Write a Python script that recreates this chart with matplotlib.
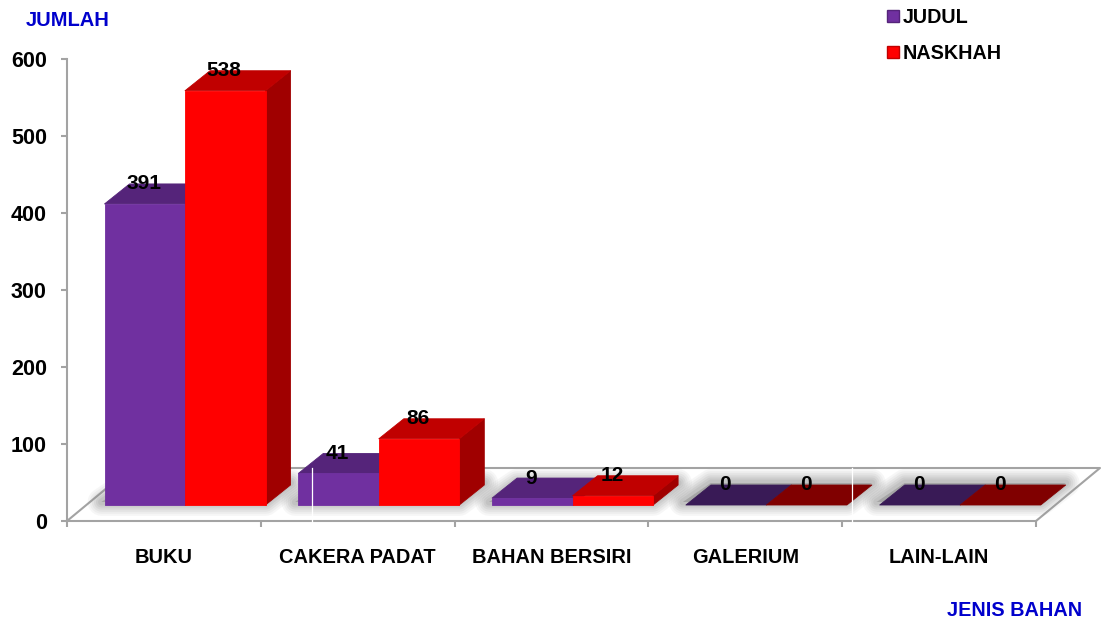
import numpy as np
from matplotlib import pyplot as plt
from matplotlib.lines import Line2D
from matplotlib.patches import Polygon

# Data
kategori = ['BUKU', 'CAKERA PADAT', 'BAHAN BERSIRI', 'GALERIUM', 'LAIN-LAIN']
judul = [391, 41, 9, 0, 0]
naskhah = [538, 86, 12, 0, 0]
y_ticks = [0, 100, 200, 300, 400, 500, 600]

plt.rcParams['font.family'] = ['Liberation Sans', 'DejaVu Sans']
plt.rcParams['font.weight'] = 'bold'

W, H = 1101, 621
fig = plt.figure(figsize=(W / 100, H / 100), dpi=100)
ax = fig.add_axes([67 / W, (H - 521) / H, (1036 - 67) / W, (521 - 59) / H])
ax.set_xlim(0, 5)
ax.set_ylim(0, 600)

# pixel to data scale
sx = 5 / (1036 - 67)
sy = 600 / (521 - 59)

GRIS = '#a3a3a3'
lebar = 80.5 * sx
geser_x, geser_y = 37.5 * sx, 16 * sy    # bars stand in from the front edge
dalam_x, dalam_y = 25 * sx, 20 * sy      # bar depth
lantai_x, lantai_y = 64 * sx, 53 * sy    # floor depth

warna = {
    'judul': dict(depan='#7030a0', atas='#55247a', sisi='#4a1f6b', nol='#391a56'),
    'naskhah': dict(depan='#ff0000', atas='#c00000', sisi='#a00000', nol='#800000'),
}


def poly(pts, warna_isi, z, **kw):
    kw.setdefault('lw', 0.6)
    kw.setdefault('ec', warna_isi)
    p = Polygon(pts, closed=True, fc=warna_isi, zorder=z, clip_on=False,
                joinstyle='round', **kw)
    ax.add_patch(p)


def batang(x0, nilai, c, z):
    x1 = x0 + lebar
    y0 = geser_y
    y1 = y0 + nilai
    if nilai == 0:
        poly([(x0, y0), (x1, y0), (x1 + dalam_x, y0 + dalam_y),
              (x0 + dalam_x, y0 + dalam_y)], c['nol'], z)
        return
    poly([(x1, y0), (x1 + dalam_x, y0 + dalam_y), (x1 + dalam_x, y1 + dalam_y),
          (x1, y1)], c['sisi'], z)
    poly([(x0, y1), (x1, y1), (x1 + dalam_x, y1 + dalam_y),
          (x0 + dalam_x, y1 + dalam_y)], c['atas'], z)
    poly([(x0, y0), (x1, y0), (x1, y1), (x0, y1)], c['depan'], z + 0.1)


# Floor lines
ax.plot([0, lantai_x, 5 + lantai_x, 5], [0, lantai_y, lantai_y, 0],
        color=GRIS, lw=1.5, clip_on=False, zorder=1)

# Bars and soft shadow on the floor
for i, (a, b) in enumerate(zip(judul, naskhah)):
    x0 = i + geser_x
    x1 = x0 + 2 * lebar
    tapak = [(x0 - 3 * sx, geser_y + 3 * sy), (x1, geser_y + 3 * sy),
             (x1 + dalam_x, geser_y + dalam_y + 2 * sy),
             (x0 + dalam_x, geser_y + dalam_y + 2 * sy)]
    for lw, alfa in [(20, 0.07), (17, 0.08), (14, 0.1), (11, 0.12), (8, 0.14), (5, 0.16)]:
        poly(tapak, '#8c8c8c', 2, lw=lw, alpha=alfa)

    batang(x0, a, warna['judul'], 3 + i)
    batang(x0 + lebar, b, warna['naskhah'], 3.5 + i)

    # Data labels
    for xb, v in ((x0, a), (x0 + lebar, b)):
        ax.text(xb + lebar / 2 - 1 * sx, geser_y + v + 20 * sy, str(v), ha='center',
                va='center', fontsize=15, color='black', zorder=20)

# Thin white seams crossing the floor
for px in (312, 851.5):
    ax.plot([(px - 67) * sx] * 2, [-3 * sy, 53.5 * sy], color='white', lw=0.9,
            clip_on=False, zorder=15)

# Axes
for lado in ('top', 'right'):
    ax.spines[lado].set_visible(False)
for lado in ('left', 'bottom'):
    ax.spines[lado].set_color(GRIS)
    ax.spines[lado].set_linewidth(1.5)
ax.patch.set_visible(False)

ax.set_yticks(y_ticks)
ax.set_xticks(np.arange(6))
ax.set_xticklabels([])
ax.set_xticks(np.arange(5) + 0.5, minor=True)
ax.set_xticklabels(kategori, minor=True, fontsize=14.4)
ax.tick_params(axis='x', which='major', length=4.5, width=1.5, color=GRIS)
ax.tick_params(axis='x', which='minor', length=0, pad=19.5)
ax.tick_params(axis='y', length=4.5, width=1.5, color=GRIS, pad=10, labelsize=15.5)

# Axis titles
fig.text(26 / W, 1 - 21 / H, 'JUMLAH', color='#0000cc', fontsize=14.5, va='center')
fig.text(1082 / W, 1 - 611 / H, 'JENIS BAHAN', color='#0000cc', fontsize=14.3,
         va='center', ha='right')

# Legend
gagang = [Line2D([], [], ls='none', marker='s', ms=8, mfc=warna['judul']['depan'],
                 mec=warna['judul']['atas'], label='JUDUL'),
          Line2D([], [], ls='none', marker='s', ms=8, mfc=warna['naskhah']['depan'],
                 mec=warna['naskhah']['atas'], label='NASKHAH')]
fig.legend(handles=gagang, loc='upper left', bbox_to_anchor=(868 / W, 1 + 8 / H),
           frameon=False, fontsize=14.2, labelspacing=0.88, handletextpad=0.0,
           handlelength=0.95, borderpad=0.3)

fig.savefig('out.png', dpi=100)
